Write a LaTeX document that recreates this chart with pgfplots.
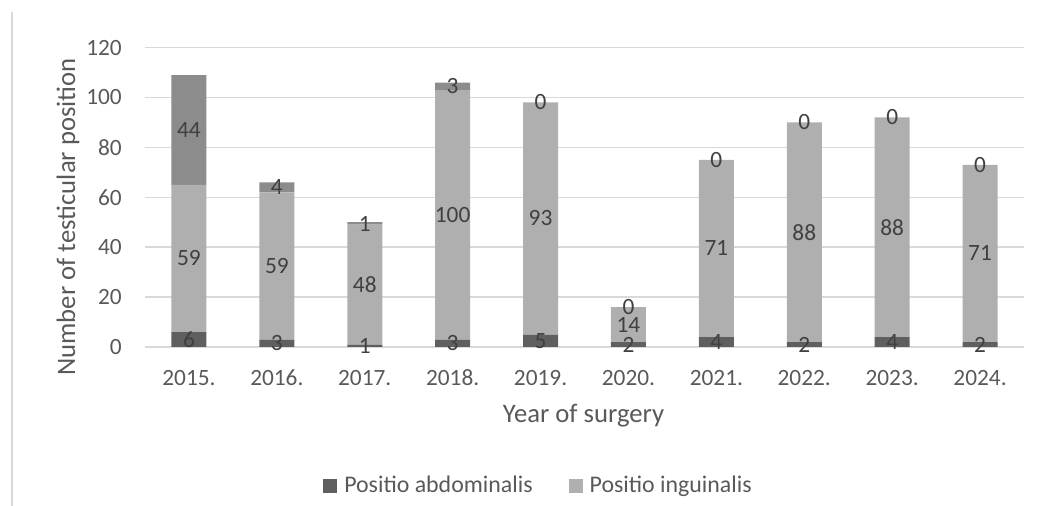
\documentclass[border=0pt]{standalone}
\usepackage{pgfplots}
\usepackage{pgfplotstable}
\pgfplotsset{compat=1.18}
\usepackage{fontspec}
\setmainfont{Carlito}
\definecolor{abd}{HTML}{5F5F5F}
\definecolor{ing}{HTML}{AFAFAF}
\definecolor{topc}{HTML}{8C8C8C}
\definecolor{txt}{HTML}{595959}
\definecolor{lbl}{HTML}{404040}
\definecolor{grd}{HTML}{D9D9D9}
% segment values per year (0 = 2015 ... 9 = 2024)
\pgfplotstableread{
x abd ing top
0 6 59 44
1 3 59 4
2 1 48 1
3 3 100 3
4 5 93 0
5 2 14 0
6 4 71 0
7 2 88 0
8 4 88 0
9 2 71 0
}\data
% data labels: centre of each segment
\pgfplotstableread{
x pos lab
0 3 6
0 35.5 59
0 87 44
1 1.5 3
1 32.5 59
1 64 4
2 0.5 1
2 25 48
2 49.5 1
3 1.5 3
3 53 100
3 104.5 3
4 2.5 5
4 51.5 93
4 98 0
5 1 2
5 9 14
5 16 0
6 2 4
6 39.5 71
6 75 0
7 1 2
7 46 88
7 90 0
8 2 4
8 48 88
8 92 0
9 1 2
9 37.5 71
9 73 0
}\labels
\begin{document}
\fontsize{17.5}{21}\selectfont
\begin{tikzpicture}
\useasboundingbox (-108.75pt,-119.25pt) rectangle (669.75pt,260.25pt);
\draw[grd, line width=1.5pt] (-100.1pt,251.25pt) -- (-100.1pt,-119.25pt);
\begin{axis}[
  at={(0,0)}, anchor=south west,
  scale only axis, width=659.25pt, height=224.55pt,
  ybar stacked, bar width=26.25pt,
  xmin=-0.5, xmax=9.5, ymin=0, ymax=120,
  enlargelimits=false,
  xtick={0,...,9},
  xticklabels={2015.,2016.,2017.,2018.,2019.,2020.,2021.,2022.,2023.,2024.},
  ytick={0,20,...,120},
  ymajorgrids, grid style={grd, line width=1.1pt},
  axis line style={draw=none},
  major tick length=0pt,
  /pgf/number format/assume math mode=true,
  ticklabel style={font=\fontsize{17.5}{21}\selectfont, color=txt, inner sep=0pt},
  xticklabel style={anchor=base, yshift=-28.5pt},
  yticklabel style={anchor=east, xshift=-17.25pt},
  xlabel={Year of surgery},
  ylabel={Number of testicular position},
  label style={font=\fontsize{20}{24}\selectfont, color=txt, inner sep=0pt},
  xlabel style={at={(axis description cs:0.4989,-0.2538)}, anchor=base},
  ylabel style={at={(axis description cs:-0.0796,0.4342)}, anchor=base},
  legend style={draw=none, fill=none, at={(0.2025,-0.4643)}, anchor=west,
     legend columns=2, inner sep=0pt, font=\fontsize{17.9}{21}\selectfont,
     text=txt, nodes={inner sep=0pt},
     /tikz/every odd column/.append style={column sep=5.25pt},
     /tikz/every even column/.append style={column sep=27pt}},
  legend image code/.code={\fill[#1] (0pt,-5pt) rectangle (10.5pt,5.5pt);},
]
\addplot[fill=abd, draw=none] table[x=x, y=abd] {\data};
\addlegendentry{Positio abdominalis}
\addplot[fill=ing, draw=none] table[x=x, y=ing] {\data};
\addlegendentry{Positio inguinalis}
\addplot[fill=topc, draw=none, forget plot] table[x=x, y=top] {\data};
\end{axis}
\begin{axis}[
  at={(0,0)}, anchor=south west,
  scale only axis, width=659.25pt, height=224.55pt,
  xmin=-0.5, xmax=9.5, ymin=0, ymax=120,
  enlargelimits=false, hide axis, clip=false,
]
\addplot[draw=none, mark=none, point meta=explicit symbolic,
  nodes near coords, nodes near coords align={center},
  every node near coord/.append style={anchor=center, color=lbl, inner sep=0pt,
     font=\fontsize{17.5}{21}\selectfont}]
  table[x=x, y=pos, meta=lab] {\labels};
\end{axis}
\end{tikzpicture}
\end{document}
